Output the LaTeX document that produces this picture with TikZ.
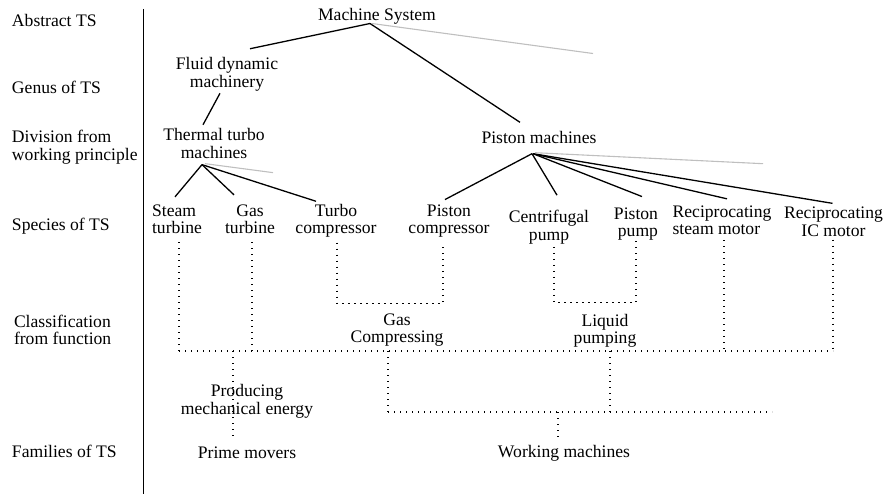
\documentclass[tikz,border=0pt]{standalone}
\usepackage{fontspec}
\setmainfont{Liberation Serif}
\usetikzlibrary{calc}
\begin{document}
\begin{tikzpicture}[x=1pt,y=-1pt,
  txt/.style={font=\fontsize{17.6}{17.5}\selectfont, inner sep=0pt, outer sep=0pt, align=center},
  side/.style={txt, anchor=west, align=left},
  tree/.style={line width=1.3pt, black},
  ghost/.style={line width=1.1pt, black!25},
  dots/.style={line width=1.3pt, dash pattern=on 1.3pt off 4.7pt},
  divider/.style={line width=1.3pt, black}]
\useasboundingbox (0,0) rectangle (886,495);
% left column
\node[side] (lAbs) at (12,20) {Abstract TS};
\node[side] (lGen) at (12,87) {Genus of TS};
\node[side] (lDiv) at (12,147) {Division from\\working principle};
\node[side] (lSpe) at (12,226) {Species of TS};
\node[side] (lCla) at (14,330) {Classification\\from function};
\node[side] (lFam) at (12,451) {Families of TS};
\coordinate (divTop) at (143.5,9);
\coordinate (divBot) at (143.5,494);
\draw[divider] (divTop) -- (divBot);
% tree nodes
\node[txt] (ms) at (377,16) {Machine System};
\node[txt] (fd) at (227,74.5) {Fluid dynamic\\machinery};
\node[txt] (tt) at (214,143.7) {Thermal turbo\\machines};
\node[txt] (pm) at (539,137.5) {Piston machines};
\node[txt, align=left] (st) at (177,219.5) {Steam\\turbine};
\node[txt] (gt) at (250,219.5) {Gas\\turbine};
\node[txt] (tc) at (336,221) {Turbo\\compressor};
\node[txt] (pc) at (449,221) {Piston\\compressor};
\node[txt] (cp) at (549,227) {Centrifugal\\pump};
\node[txt, align=right] (pp) at (636,224) {Piston\\pump};
\node[txt, align=left] (rs) at (722,220.5) {Reciprocating\\steam motor};
\node[txt] (ic) at (833.5,222) {Reciprocating\\IC motor};
\node[txt] (gc) at (397,330) {Gas\\Compressing};
\node[txt] (lp) at (605,330.7) {Liquid\\pumping};
\node[txt] (pme) at (247,401.5) {Producing\\mechanical energy};
\node[txt] (pmv) at (247,452.4) {Prime movers};
\node[txt] (wm) at (564,453.4) {Working machines};
% solid tree
\draw[tree] ($(ms.south)+(-7,-0.5)$) -- ($(fd.north)+(23,-9)$);
\draw[tree] ($(ms.south)+(-7,-0.5)$) -- ($(pm.north)+(-19,-9)$);
\draw[ghost] ($(ms.south)+(-5,-0.5)$) -- ($(ms.south)+(216,29.5)$);
\draw[tree] ($(fd.south)+(-7,2)$) -- ($(tt.north)+(-11,-4)$);
\draw[tree] ($(tt.south)+(-12,6)$) -- ($(st.north)+(-2,-8)$);
\draw[tree] ($(tt.south)+(-12,6)$) -- ($(gt.north)+(-16,-10)$);
\draw[tree] ($(tt.south)+(-12,6)$) -- ($(tc.north)+(-20,-3)$);
\draw[ghost] ($(tt.south)+(-9,5)$) -- ($(tt.south)+(59,14)$);
\draw[tree] ($(pm.south)+(-7,10)$) -- ($(pc.north)+(-4,-5)$);
\draw[tree] ($(pm.south)+(-7,10)$) -- ($(cp.north)+(8,-15)$);
\draw[tree] ($(pm.south)+(-6,10)$) -- ($(pp.north)+(6,-11)$);
\draw[tree] ($(pm.south)+(-6,10)$) -- ($(rs.north)+(5,-7)$);
\draw[tree] ($(pm.south)+(-6,10)$) -- ($(ic.north)+(-1,-4)$);
\draw[ghost] ($(pm.south)+(-4,9)$) -- ($(pm.south)+(224,20)$);
% dotted classification
\coordinate (busL) at (179,351);
\coordinate (busR) at (833,351);
\coordinate (jPm) at (233,351);
\coordinate (jW1) at (388,351);
\coordinate (jW2) at (610,351);
\coordinate (wL) at (388,412);
\coordinate (wR) at (772,412);
\coordinate (wJ) at (558,412);
\coordinate (stD) at ($(st.south)+(2,8)$);
\coordinate (gtD) at ($(gt.south)+(2,8)$);
\coordinate (rsD) at ($(rs.south)+(2,5)$);
\coordinate (icD) at ($(ic.south)+(-0.5,3)$);
\draw[dots] (stD) -- (stD |- busL);
\draw[dots] (gtD) -- (gtD |- busL);
\draw[dots] (busL) -- (busR);
\draw[dots] (rsD) -- (rsD |- busR);
\draw[dots] (icD) -- (icD |- busR);
\draw[dots] ($(tc.south)+(1,5)$) |- ($(pc.south)+(-6,66)$) -- ($(pc.south)+(-6,5)$);
\draw[dots] ($(cp.south)+(5,3)$) |- ($(pp.south)+(0,62)$) -- (pp.south);
\draw[dots] (jPm) -- ($(pmv.north)+(-14,-6)$);
\draw[dots] (jW1) -- (wL);
\draw[dots] (jW2) -- (wJ -| jW2);
\draw[dots] (wL) -- (wR);
\draw[dots] (wJ) -- ($(wm.north)+(-6,-6)$);
\end{tikzpicture}
\end{document}
